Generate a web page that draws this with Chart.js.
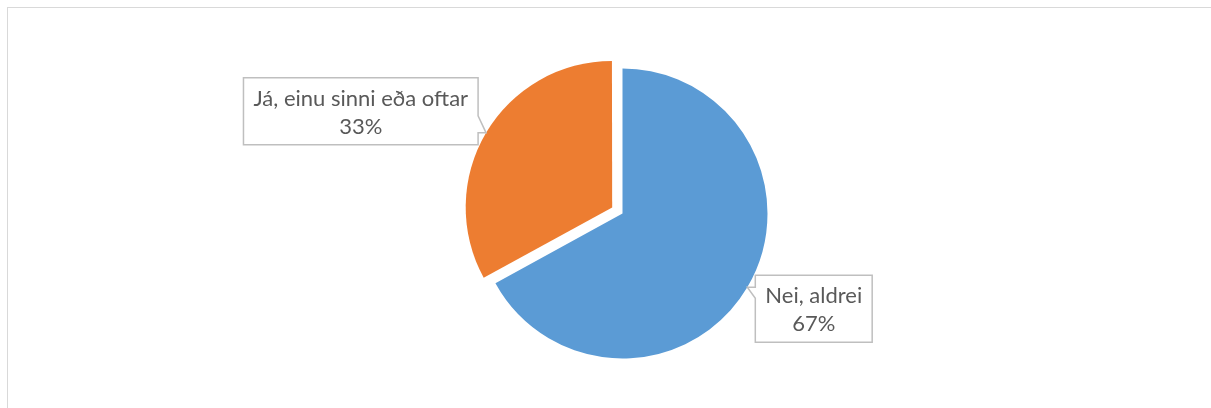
<!DOCTYPE html>
<html>
<head>
<meta charset="utf-8">
<script src="https://cdn.jsdelivr.net/npm/chart.js@4"></script>
<style>
    html, body { margin: 0; padding: 0; background: #fff; }
    #wrap { position: relative; width: 1211px; height: 408px; overflow: hidden; }
    #frame { position: absolute; left: 7px; top: 7px; width: 1220px; height: 420px; border: 1px solid #d9d9d9; }
    #box { position: absolute; left: 0; top: 0; width: 1211px; height: 408px; }
</style>
</head>
<body>
<div id="wrap">
    <div id="frame"></div>
    <div id="box"><canvas id="pie-chart"></canvas></div>
</div>
<script>
// Survey answers - pie chart
const categories = ['Nei, aldrei', 'Já, einu sinni eða oftar'];
const shares = [67, 33];
const sliceColors = ['#5b9bd5', '#ed7d31'];
const sliceOffsets = [0, 48]; // chart.js v4 draws offset/4

// callout boxes with a little pointer, like the Excel data labels
const calloutPlugin = {
    id: 'callouts',
    afterDatasetsDraw(chart) {
        const ctx = chart.ctx;
        const meta = chart.getDatasetMeta(0);
        const total = shares.reduce((a, b) => a + b, 0);
        const cy = (chart.chartArea.top + chart.chartArea.bottom) / 2;
        ctx.save();
        ctx.font = '22px Lato, "Open Sans", sans-serif';
        meta.data.forEach((arc, i) => {
            const p = arc.getProps(['x', 'y', 'startAngle', 'endAngle', 'outerRadius', 'circumference'], true);
            const mid = (p.startAngle + p.endAngle) / 2;
            const shift = (arc.options.offset || 0) / 4;
            const fix = 1 - Math.sin(Math.min(Math.PI, p.circumference || 0));
            const r = p.outerRadius + shift * fix;
            const tipX = p.x + Math.cos(mid) * (shift + r);
            const tipY = p.y + Math.sin(mid) * (shift + r);

            const lines = [categories[i], Math.round(shares[i] / total * 100) + '%'];
            const w = Math.max(...lines.map(t => ctx.measureText(t).width)) + 20;
            const h = 67;
            const left = tipX < p.x;
            const bx = left ? tipX - 8 - w : tipX + 8;
            const by = tipY < cy ? tipY + 12 - h : tipY - 12;

            ctx.beginPath();
            if (left) {
                const ex = bx + w;
                ctx.moveTo(bx, by);
                ctx.lineTo(ex, by);
                ctx.lineTo(ex, tipY - 17);
                ctx.lineTo(tipX, tipY);
                ctx.lineTo(ex, tipY);
                ctx.lineTo(ex, by + h);
                ctx.lineTo(bx, by + h);
            } else {
                ctx.moveTo(bx, by);
                ctx.lineTo(bx + w, by);
                ctx.lineTo(bx + w, by + h);
                ctx.lineTo(bx, by + h);
                ctx.lineTo(bx, tipY + 11);
                ctx.lineTo(tipX, tipY);
                ctx.lineTo(bx, tipY);
            }
            ctx.closePath();
            ctx.fillStyle = '#ffffff';
            ctx.fill();
            ctx.strokeStyle = '#bfbfbf';
            ctx.lineWidth = 1.5;
            ctx.stroke();

            ctx.fillStyle = '#595959';
            ctx.textAlign = 'center';
            ctx.textBaseline = 'alphabetic';
            ctx.fillText(lines[0], bx + w / 2, by + 28);
            ctx.fillText(lines[1], bx + w / 2, by + 56);
        });
        ctx.restore();
    }
};

new Chart(document.getElementById('pie-chart'), {
    type: 'pie',
    data: {
        labels: categories,
        datasets: [{
            data: shares,
            backgroundColor: sliceColors,
            offset: sliceOffsets,
            hoverOffset: 0,
            borderWidth: 0
        }]
    },
    options: {
        responsive: true,
        maintainAspectRatio: false,
        animation: false,
        layout: { padding: { top: 44.5, bottom: 25.5, left: 34, right: 0 } },
        plugins: {
            legend: { display: false },
            tooltip: { enabled: false }
        }
    },
    plugins: [calloutPlugin]
});
</script>
</body>
</html>
